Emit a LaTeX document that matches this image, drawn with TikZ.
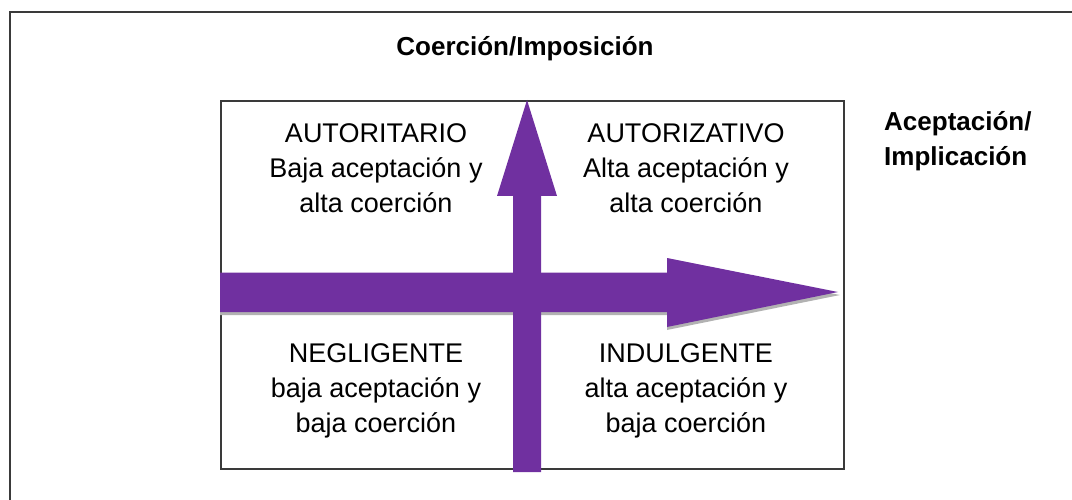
\documentclass[tikz,border=0pt]{standalone}
\usepackage{fontspec}
\setmainfont{Liberation Sans}
\definecolor{arrowpurple}{HTML}{7030A0}
\definecolor{framegray}{HTML}{3A3A3A}
\begin{document}
\begin{tikzpicture}[x=1pt,y=-1pt,
  quad/.style={align=center,inner sep=0pt,anchor=base,font=\fontsize{27}{35}\selectfont},
  axislabel/.style={inner sep=0pt,font=\bfseries\fontsize{26}{35}\selectfont},
  arrowshape/.style={fill=arrowpurple,draw=none},
  shadowshape/.style={fill=gray!60,draw=none}]
\useasboundingbox (0,0) rectangle (1072,500);
% outer frame (extends past the right and bottom edges)
\begin{scope}
\clip (0,0) rectangle (1072,500);
\draw[framegray,line width=2pt] (10,520) -- (10,12) -- (1090,12);
\end{scope}
% inner box
\node[draw=framegray,line width=1.6pt,minimum width=623pt,minimum height=368pt,inner sep=0pt,anchor=north west] (box) at (220,100) {};
% horizontal arrow with shadow
\coordinate (hstart) at (220,292);
\coordinate (htip) at (838,292);
\fill[shadowshape] (220,275) -- (667,275) -- (667,261) -- (840,295) -- (667,330) -- (667,315) -- (220,315) -- cycle;
\fill[arrowshape] (hstart) ++(0,-19.5) -- (667,272.5) -- (667,258) -- (htip) -- (667,327) -- (667,312) -- (220,312) -- cycle;
% vertical arrow
\coordinate (vstart) at (527,472);
\coordinate (vtip) at (527,100);
\fill[arrowshape] (513,472) -- (513,196) -- (497,196) -- (vtip) -- (557,196) -- (541,196) -- (541,472) -- cycle;
% labels
\node[axislabel,anchor=base] (title) at (525,56) {Coerción/Imposición};
\node[axislabel,anchor=base west,align=left] (acc) at (884,166) {Aceptación/\\Implicación};
\node[quad] (autoritario) at (376,212) {AUTORITARIO\\Baja aceptación y\\alta coerción};
\node[quad] (autorizativo) at (686,212) {AUTORIZATIVO\\Alta aceptación y\\alta coerción};
\node[quad] (negligente) at (376,432) {NEGLIGENTE\\baja aceptación y\\baja coerción};
\node[quad] (indulgente) at (686,432) {INDULGENTE\\alta aceptación y\\baja coerción};
\end{tikzpicture}
\end{document}
